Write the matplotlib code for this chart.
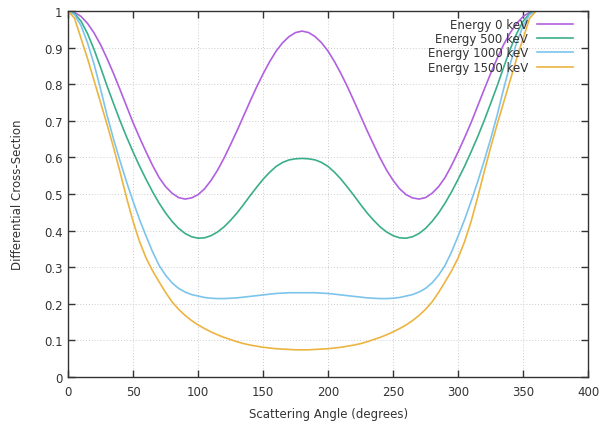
"""
Differential cross-section vs scattering angle for several photon energies.
Static recreation of a gnuplot-style chart.
"""
import matplotlib
matplotlib.use('Agg')
import matplotlib.pyplot as plt

# angles (degrees), read every 5 degrees
angles = list(range(0, 361, 5))

# values (symmetric about 180 degrees)
energy_0 = [1.0, 0.996, 0.985, 0.966, 0.94, 0.908, 0.87, 0.829, 0.785, 0.74,
            0.695, 0.654, 0.615, 0.578, 0.545, 0.52, 0.502, 0.49, 0.486, 0.489,
            0.498, 0.514, 0.537, 0.565, 0.598, 0.635, 0.673, 0.713, 0.753, 0.792,
            0.828, 0.861, 0.89, 0.913, 0.93, 0.941, 0.945,
            0.941, 0.93, 0.913, 0.89, 0.861, 0.828, 0.792, 0.753, 0.713, 0.673,
            0.635, 0.598, 0.565, 0.537, 0.514, 0.498, 0.489, 0.486, 0.49, 0.502,
            0.52, 0.545, 0.578, 0.615, 0.654, 0.695, 0.74, 0.785, 0.829, 0.87,
            0.908, 0.94, 0.966, 0.985, 0.996, 1.0]
energy_500 = [1.0, 0.993, 0.972, 0.938, 0.895, 0.846, 0.795, 0.747, 0.70, 0.656,
              0.615, 0.576, 0.54, 0.506, 0.475, 0.448, 0.425, 0.406, 0.392, 0.383,
              0.379, 0.38, 0.386, 0.396, 0.41, 0.428, 0.448, 0.471, 0.495, 0.518,
              0.54, 0.559, 0.575, 0.586, 0.593, 0.596, 0.597,
              0.596, 0.593, 0.586, 0.575, 0.559, 0.54, 0.518, 0.495, 0.471, 0.448,
              0.428, 0.41, 0.396, 0.386, 0.38, 0.379, 0.383, 0.392, 0.406, 0.425,
              0.448, 0.475, 0.506, 0.54, 0.576, 0.615, 0.656, 0.70, 0.747, 0.795,
              0.846, 0.895, 0.938, 0.972, 0.993, 1.0]
energy_1000 = [1.0, 0.99, 0.96, 0.913, 0.855, 0.787, 0.715, 0.65, 0.59, 0.533,
               0.48, 0.43, 0.385, 0.342, 0.305, 0.278, 0.257, 0.242, 0.232, 0.225,
               0.221, 0.217, 0.215, 0.214, 0.214, 0.215, 0.216, 0.218, 0.22, 0.222,
               0.224, 0.226, 0.228, 0.229, 0.23, 0.23, 0.23,
               0.23, 0.23, 0.229, 0.228, 0.226, 0.224, 0.222, 0.22, 0.218, 0.216,
               0.215, 0.214, 0.214, 0.215, 0.217, 0.221, 0.225, 0.232, 0.242, 0.257,
               0.278, 0.305, 0.342, 0.385, 0.43, 0.48, 0.533, 0.59, 0.65, 0.715,
               0.787, 0.855, 0.913, 0.96, 0.99, 1.0]
energy_1500 = [1.0, 0.98, 0.925, 0.87, 0.81, 0.75, 0.69, 0.627, 0.56, 0.49,
               0.425, 0.37, 0.325, 0.29, 0.26, 0.231, 0.205, 0.185, 0.168, 0.154,
               0.142, 0.132, 0.123, 0.115, 0.108, 0.102, 0.096, 0.091, 0.087, 0.084,
               0.081, 0.079, 0.077, 0.076, 0.075, 0.074, 0.074,
               0.074, 0.075, 0.076, 0.077, 0.079, 0.081, 0.084, 0.087, 0.091, 0.096,
               0.102, 0.108, 0.115, 0.123, 0.132, 0.142, 0.154, 0.168, 0.185, 0.205,
               0.231, 0.26, 0.29, 0.325, 0.37, 0.425, 0.49, 0.56, 0.627, 0.69,
               0.75, 0.81, 0.87, 0.925, 0.98, 1.0]

labels = ['Energy 0 keV', 'Energy 500 keV', 'Energy 1000 keV', 'Energy 1500 keV']
colors = ['#b060e0', '#3aae8a', '#7cc4ec', '#ecb440']

x_ticks = [0, 50, 100, 150, 200, 250, 300, 350, 400]
y_ticks = [0, 0.1, 0.2, 0.3, 0.4, 0.5, 0.6, 0.7, 0.8, 0.9, 1]
y_tick_labels = ['0', '0.1', '0.2', '0.3', '0.4', '0.5', '0.6', '0.7', '0.8', '0.9', '1']

fig = plt.figure(figsize=(6.02, 4.27), dpi=100)
ax = fig.add_axes([0.113, 0.115, 0.864, 0.857])

for series, label, color in zip([energy_0, energy_500, energy_1000, energy_1500], labels, colors):
    ax.plot(angles, series, color=color, linewidth=1.2, label=label)

ax.set_xlim(0, 400)
ax.set_ylim(0, 1)
ax.set_xticks(x_ticks)
ax.set_yticks(y_ticks)
ax.set_yticklabels(y_tick_labels)
ax.tick_params(direction='in', top=True, right=True, length=5, width=1,
               labelsize=8.5, colors='#333333')
ax.tick_params(axis='x', pad=6)
ax.tick_params(axis='y', pad=4)
ax.grid(True, color='#cccccc', linestyle=(0, (1, 2)), linewidth=0.7)
for spine in ax.spines.values():
    spine.set_color('#333333')
    spine.set_linewidth(1)

ax.set_xlabel('Scattering Angle (degrees)', fontsize=8.5, color='#333333', labelpad=6)
ax.set_ylabel('Differential Cross-Section', fontsize=8.5, color='#333333', labelpad=14)

leg = ax.legend(loc='upper right', bbox_to_anchor=(1.0, 1.022), frameon=False,
                markerfirst=False, fontsize=8.5, handlelength=3.1,
                handletextpad=0.75, labelspacing=0.12, borderaxespad=0.85)
for t in leg.get_texts():
    t.set_color('#333333')

plt.savefig('out.png', dpi=100)
